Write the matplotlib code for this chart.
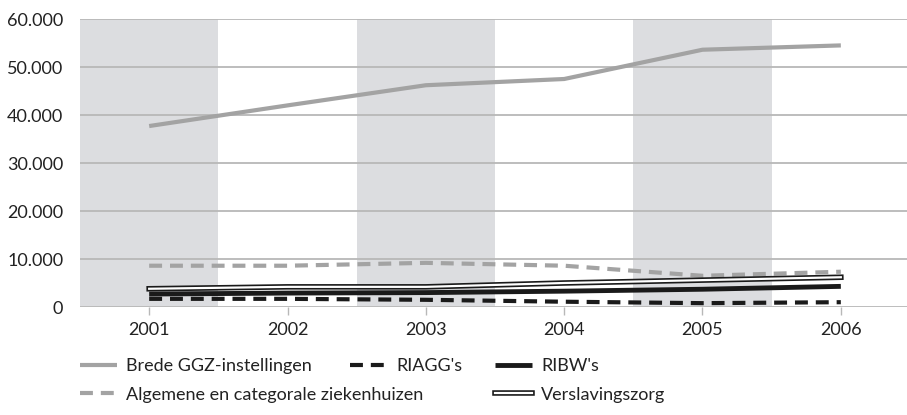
import matplotlib.pyplot as plt
from matplotlib.ticker import FuncFormatter
import matplotlib.patheffects as pe

plt.rcParams['font.family'] = ['Lato', 'DejaVu Sans']

# data
years = ['2001', '2002', '2003', '2004', '2005', '2006']
brede = [37700, 42000, 46200, 47500, 53600, 54500]
algemene = [8600, 8600, 9200, 8600, 6500, 7350]
verslaving = [3800, 4200, 4200, 5000, 5600, 6200]
ribw = [2700, 2900, 3000, 3300, 3700, 4300]
riagg = [1700, 1700, 1500, 1100, 800, 1000]

x = list(range(len(years)))

fig = plt.figure(figsize=(9.07, 4.15), dpi=100)
ax = fig.add_axes([80 / 907, 1 - 307 / 415, 830 / 907, 288 / 415])

# grey bands behind every other year
for i in range(0, len(years), 2):
    ax.axvspan(i - 0.5, i + 0.5, color='#dcdde0', lw=0, zorder=0)

for v in range(0, 60001, 10000):
    ax.axhline(v, color='#b8b8b8', lw=1.3, zorder=1)

l1, = ax.plot(x, brede, color='#a3a3a3', lw=3, solid_capstyle='butt', zorder=3,
              label='Brede GGZ-instellingen')
l4, = ax.plot(x, algemene, color='#a3a3a3', lw=3, dashes=(3.1, 1.9), zorder=3,
              label='Algemene en categorale ziekenhuizen')
l5, = ax.plot(x, verslaving, color='white', lw=1.6, zorder=3,
              path_effects=[pe.Stroke(linewidth=4, foreground='#1a1a1a'), pe.Normal()],
              label='Verslavingszorg')
l3, = ax.plot(x, ribw, color='#1a1a1a', lw=3.5, solid_capstyle='butt', zorder=3,
              label="RIBW's")
l2, = ax.plot(x, riagg, color='#1a1a1a', lw=3, dashes=(3.1, 1.9), zorder=3,
              label="RIAGG's")

ax.set_xlim(-0.5, len(years) - 0.5)
ax.set_ylim(0, 60000)
ax.set_xticks(x)
ax.set_xticklabels(years)
ax.set_yticks(range(0, 60001, 10000))
ax.yaxis.set_major_formatter(FuncFormatter(lambda v, p: f'{int(v):,}'.replace(',', '.')))
for s in ax.spines.values():
    s.set_visible(False)
ax.tick_params(axis='x', length=6, color='#b8b8b8', width=1, labelsize=13,
               labelcolor='#222222', pad=5)
ax.tick_params(axis='y', length=0, labelsize=13, labelcolor='#222222', pad=12)
ax.patch.set_alpha(0)

# legend: three separate columns
leg_kw = dict(frameon=False, fontsize=13, handlelength=2.05, handletextpad=0.5,
              labelspacing=0.7, borderaxespad=0, borderpad=0, labelcolor='#222222')
top = 1 - 358 / 415
fig.legend([l1, l4], [l1.get_label(), l4.get_label()], loc='upper left',
           bbox_to_anchor=(80 / 907, top), **leg_kw)
fig.legend([l2], [l2.get_label()], loc='upper left',
           bbox_to_anchor=(350 / 907, top), **leg_kw)
fig.legend([l3, l5], [l3.get_label(), l5.get_label()], loc='upper left',
           bbox_to_anchor=(495 / 907, top), **leg_kw)

fig.savefig('out.png', dpi=100)
